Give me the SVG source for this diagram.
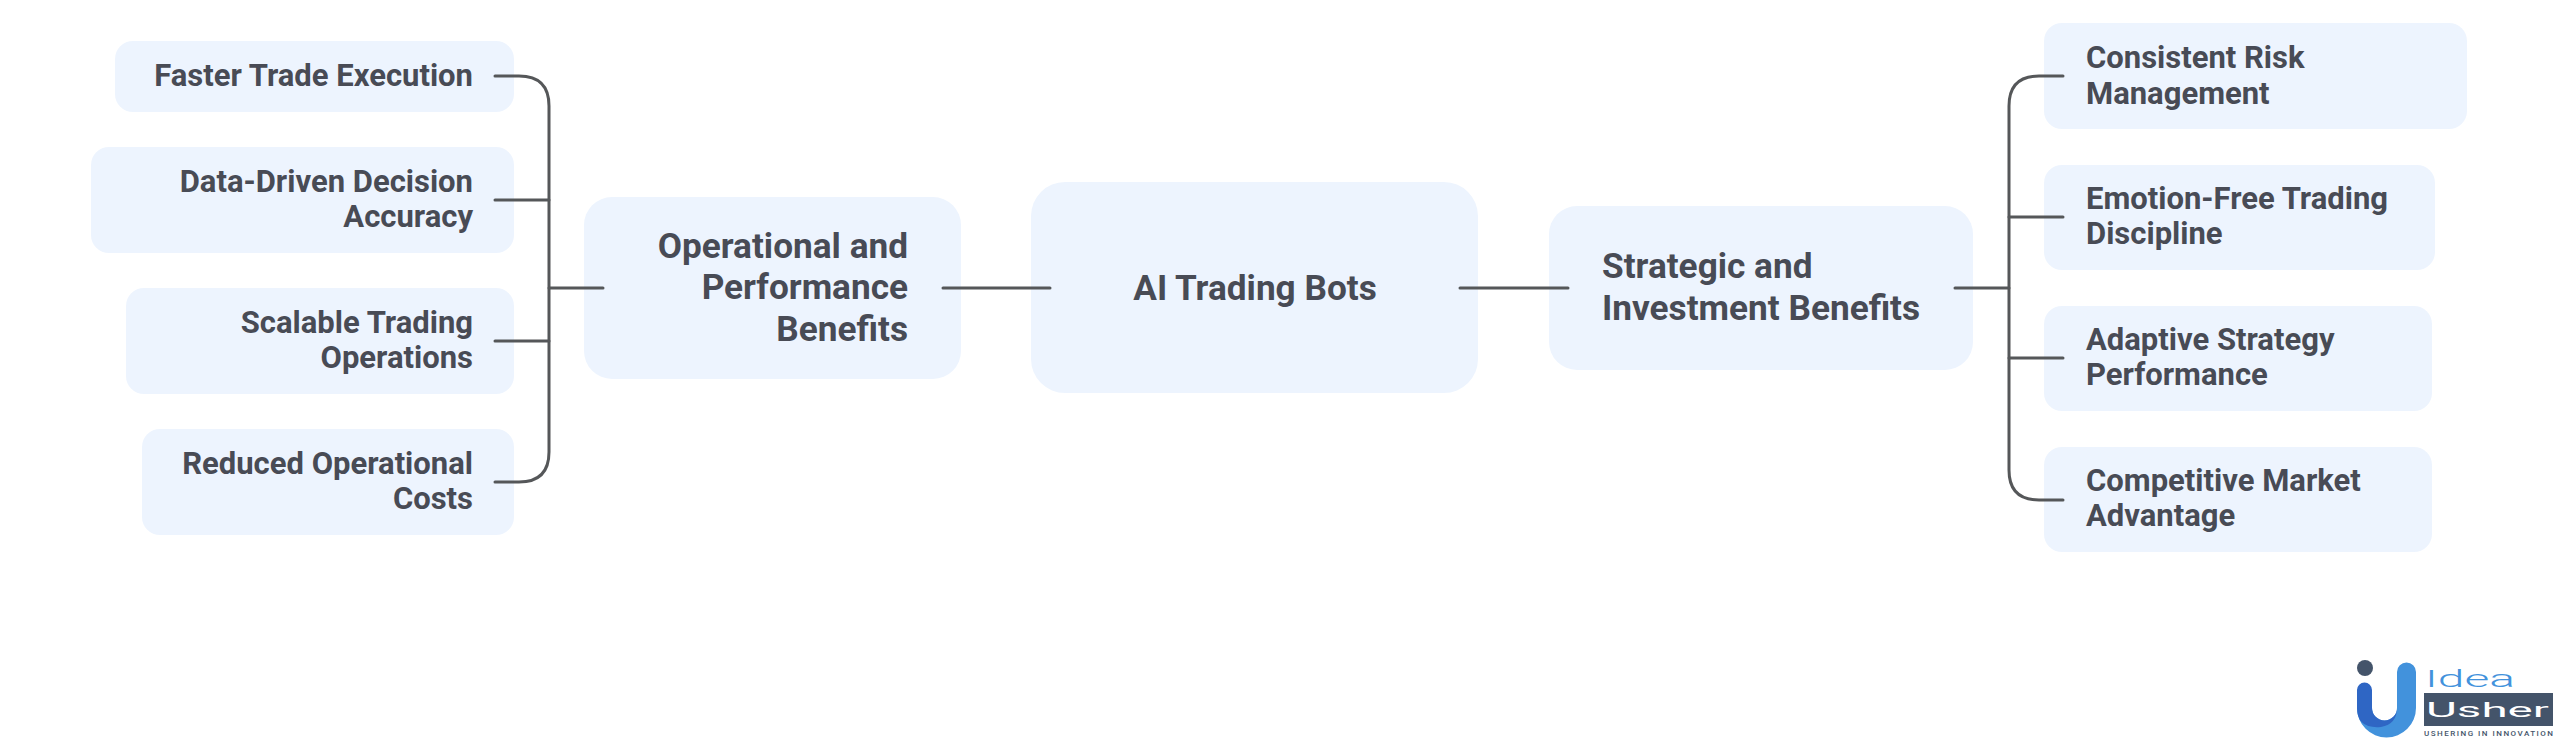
<svg xmlns="http://www.w3.org/2000/svg" width="2560" height="745" viewBox="0 0 2560 745">
<style>
.box{fill:#edf4fe}
text{font-family:Roboto,"Liberation Sans",sans-serif;font-weight:700;fill:#484b55}
.s{font-size:31px}
.m{font-size:35.200px}
.r{text-anchor:end}
.c{text-anchor:middle}
.ln{fill:none;stroke:#555759;stroke-width:3;stroke-linecap:round}
.lg{font-family:Roboto,sans-serif;font-weight:300}
</style>
<rect width="2560" height="745" fill="#fff"/>
<g id="node-center"><rect class="box" x="1031" y="182" width="447" height="211" rx="34"/><text class="m c" x="1255" y="300">AI Trading Bots</text></g>
<g id="node-operational"><rect class="box" x="584" y="197" width="377" height="182" rx="28"/><text class="m r" x="908" y="258">Operational and</text><text class="m r" x="908" y="299">Performance</text><text class="m r" x="908" y="341">Benefits</text></g>
<g id="node-strategic"><rect class="box" x="1549" y="206" width="424" height="164" rx="28"/><text class="m" x="1602" y="278">Strategic and</text><text class="m" x="1602" y="320">Investment Benefits</text></g>
<g id="node-l1"><rect class="box" x="115" y="41" width="399" height="71" rx="18"/><text class="s r" x="473" y="86">Faster Trade Execution</text></g>
<g id="node-l2"><rect class="box" x="91" y="147" width="423" height="106" rx="18"/><text class="s r" x="473" y="192">Data-Driven Decision</text><text class="s r" x="473" y="227">Accuracy</text></g>
<g id="node-l3"><rect class="box" x="126" y="288" width="388" height="106" rx="18"/><text class="s r" x="473" y="333">Scalable Trading</text><text class="s r" x="473" y="368">Operations</text></g>
<g id="node-l4"><rect class="box" x="142" y="429" width="372" height="106" rx="18"/><text class="s r" x="473" y="474">Reduced Operational</text><text class="s r" x="473" y="509">Costs</text></g>
<g id="node-r1"><rect class="box" x="2044" y="23" width="423" height="106" rx="18"/><text class="s" x="2086" y="68">Consistent Risk</text><text class="s" x="2086" y="104">Management</text></g>
<g id="node-r2"><rect class="box" x="2044" y="165" width="391" height="105" rx="18"/><text class="s" x="2086" y="209">Emotion-Free Trading</text><text class="s" x="2086" y="244">Discipline</text></g>
<g id="node-r3"><rect class="box" x="2044" y="306" width="388" height="105" rx="18"/><text class="s" x="2086" y="350">Adaptive Strategy</text><text class="s" x="2086" y="385">Performance</text></g>
<g id="node-r4"><rect class="box" x="2044" y="447" width="388" height="105" rx="18"/><text class="s" x="2086" y="491">Competitive Market</text><text class="s" x="2086" y="526">Advantage</text></g>
<g id="connectors">
<path class="ln" d="M495 76H519Q549 76 549 106V452Q549 482 519 482H495"/>
<path class="ln" d="M495 200H549M495 341H549M549 288H603"/>
<path class="ln" d="M943 288H1050M1460 288H1568M1955 288H2009"/>
<path class="ln" d="M2063 76H2039Q2009 76 2009 106V470Q2009 500 2039 500H2063"/>
<path class="ln" d="M2009 217H2063M2009 358H2063"/>
</g>
<g id="logo">
<circle cx="2365" cy="668" r="8" fill="#44546a"/>
<path d="M2397 672a9.500 9.500 0 0 1 19 0v36a29.500 29.500 0 0 1-59 0h15a12.500 12.500 0 0 0 25 0z" fill="#4292dc"/>
<path d="M2357 690a7.500 7.500 0 0 1 15 0v18a12.500 12.500 0 0 0 25 0q0 16-16 19q-24 2-24-19z" fill="#2f66c4"/>
<rect x="2424" y="693" width="129" height="33" fill="#44546a"/>
<text class="lg" x="2425" y="687" font-size="24" textLength="90" lengthAdjust="spacingAndGlyphs" style="fill:#4292dc;font-weight:300">Idea</text>
<text class="lg" x="2426" y="717" font-size="21" textLength="123" lengthAdjust="spacingAndGlyphs" style="fill:#fff;font-weight:400">Usher</text>
<text x="2424" y="736" font-size="8" textLength="129" style="fill:#44546a;font-weight:500">USHERING IN INNOVATION</text>
</g>
</svg>
